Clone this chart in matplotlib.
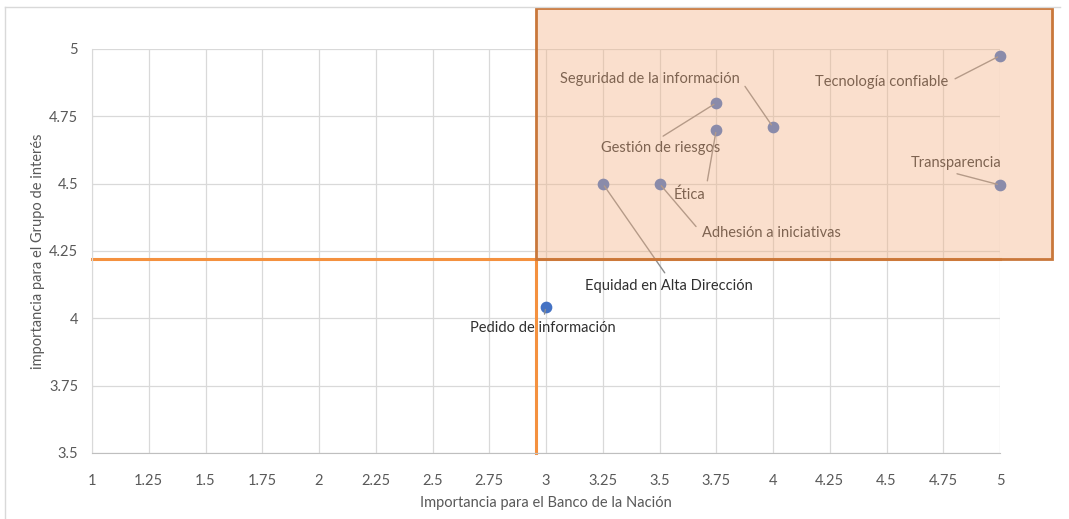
import matplotlib
matplotlib.use("Agg")
import matplotlib.pyplot as plt
from matplotlib.patches import Rectangle

plt.rcParams['font.family'] = ['Lato', 'DejaVu Sans']

# ---- data ----
labels = ["Tecnología confiable", "Seguridad de la información", "Gestión de riesgos",
          "Ética", "Adhesión a iniciativas", "Equidad en Alta Dirección",
          "Transparencia", "Pedido de información"]
x_vals = [5.0, 4.0, 3.75, 3.75, 3.5, 3.25, 5.0, 3.0]
y_vals = [4.975, 4.71, 4.80, 4.70, 4.50, 4.50, 4.495, 4.043]

x_ticks = [1, 1.25, 1.5, 1.75, 2, 2.25, 2.5, 2.75, 3, 3.25, 3.5, 3.75, 4, 4.25, 4.5, 4.75, 5]
x_ticklabels = ["1", "1.25", "1.5", "1.75", "2", "2.25", "2.5", "2.75", "3", "3.25",
                "3.5", "3.75", "4", "4.25", "4.5", "4.75", "5"]
y_ticks = [3.5, 3.75, 4, 4.25, 4.5, 4.75, 5]
y_ticklabels = ["3.5", "3.75", "4", "4.25", "4.5", "4.75", "5"]

x_threshold = 2.956
y_threshold = 4.22

# label placement (positions)
label_pos = [(4.48, 4.877), (3.458, 4.889), (3.507, 4.632), (3.63, 4.458),
             (3.991, 4.317), (3.542, 4.12), (4.806, 4.577), (2.987, 3.964)]
label_rel = [(1, 0.5), (1, 0.5), (0.45, 1), (1, 0.5), (0, 0.5), (0.5, 1), (0.35, 0), (0.5, 1)]

W, H = 1069, 519
fig = plt.figure(figsize=(W / 100, H / 100), dpi=100)
ax = fig.add_axes([92 / W, 1 - 453 / H, (1000 - 92) / W, (453 - 49) / H])

# frame around chart area
fig.add_artist(plt.Line2D([5 / W, 5 / W], [0, 1 - 7 / H], transform=fig.transFigure,
                          color="#D9D9D9", lw=1))
fig.add_artist(plt.Line2D([5 / W, 1060 / W], [1 - 7 / H, 1 - 7 / H], transform=fig.transFigure,
                          color="#D9D9D9", lw=1))

ax.set_xlim(1, 5)
ax.set_ylim(3.5, 5)
ax.set_xticks(x_ticks)
ax.set_xticklabels(x_ticklabels)
ax.set_yticks(y_ticks)
ax.set_yticklabels(y_ticklabels)
ax.grid(True, color="#D9D9D9", lw=0.9)
ax.set_axisbelow(True)
for s in ["top", "right"]:
    ax.spines[s].set_visible(False)
ax.spines["left"].set_color("#D9D9D9")
ax.spines["bottom"].set_color("#BFBFBF")
ax.tick_params(length=0, colors="#595959", labelsize=10.5)
ax.tick_params(axis="x", pad=15)
ax.tick_params(axis="y", pad=10)

ax.set_xlabel("Importancia para el Banco de la Nación", color="#595959", fontsize=10.5, labelpad=6)
ax.set_ylabel("importancia para el Grupo de interés", color="#595959", fontsize=10.5, labelpad=3)

# threshold lines
ax.plot([1, 5], [y_threshold, y_threshold], color="#F4913F", lw=2.2, zorder=2, clip_on=False)
ax.plot([x_threshold, x_threshold], [3.5, y_threshold], color="#F4913F", lw=2.2, zorder=2, clip_on=False)

# points
ax.scatter(x_vals, y_vals, s=55, color="#4472C4", zorder=3, clip_on=False)

for lab, xv, yv, pos, rel in zip(labels, x_vals, y_vals, label_pos, label_rel):
    ax.annotate(lab, xy=(xv, yv), xytext=pos, ha="center", va="center",
                fontsize=10.5, color="#303030", zorder=4,
                arrowprops=dict(arrowstyle="-", color="#8C8C8C", lw=1.0,
                                shrinkA=3, shrinkB=2, relpos=rel))

# highlighted quadrant
rect = Rectangle((x_threshold, y_threshold), 5.23 - x_threshold, 5.152 - y_threshold,
                 facecolor="#F4B183", alpha=0.4, edgecolor="none", zorder=5, clip_on=False)
ax.add_patch(rect)
rect_edge = Rectangle((x_threshold, y_threshold), 5.23 - x_threshold, 5.152 - y_threshold,
                      facecolor="none", edgecolor="#C9773A", lw=2, zorder=6, clip_on=False)
ax.add_patch(rect_edge)

fig.savefig("out.png", dpi=100)
